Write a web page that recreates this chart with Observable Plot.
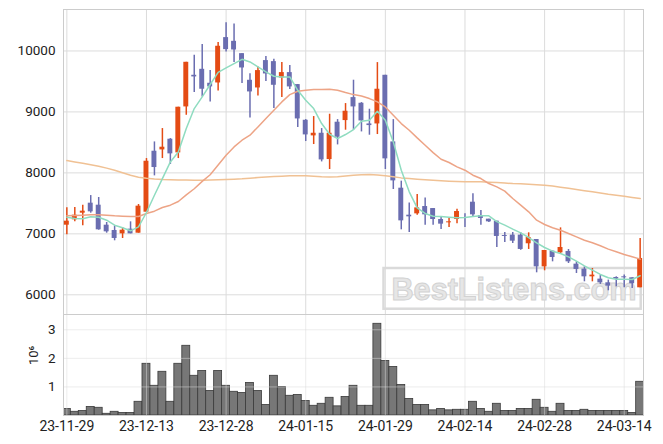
<!DOCTYPE html>
<html><head><meta charset="utf-8">
<script src="https://cdn.jsdelivr.net/npm/d3@7"></script>
<script src="https://cdn.jsdelivr.net/npm/@observablehq/plot@0.6"></script>
<style>
html,body{margin:0;padding:0;background:#fff;}
#chart{width:663px;height:444px;overflow:hidden;background:#fff;}
#chart svg{display:block;}
</style></head><body>
<div id="chart"></div>
<script>
const dates = ["2023-11-29","2023-11-30","2023-12-01","2023-12-04","2023-12-05","2023-12-06","2023-12-07","2023-12-08","2023-12-11","2023-12-12",
"2023-12-13","2023-12-14","2023-12-15","2023-12-18","2023-12-19","2023-12-20","2023-12-21","2023-12-22","2023-12-26","2023-12-27",
"2023-12-28","2024-01-02","2024-01-03","2024-01-04","2024-01-05","2024-01-08","2024-01-09","2024-01-10","2024-01-11","2024-01-12",
"2024-01-15","2024-01-16","2024-01-17","2024-01-18","2024-01-19","2024-01-22","2024-01-23","2024-01-24","2024-01-25","2024-01-26",
"2024-01-29","2024-01-30","2024-01-31","2024-02-01","2024-02-02","2024-02-05","2024-02-06","2024-02-07","2024-02-08","2024-02-13",
"2024-02-14","2024-02-15","2024-02-16","2024-02-19","2024-02-20","2024-02-21","2024-02-22","2024-02-23","2024-02-26","2024-02-27",
"2024-02-28","2024-02-29","2024-03-04","2024-03-05","2024-03-06","2024-03-07","2024-03-08","2024-03-11","2024-03-12","2024-03-13",
"2024-03-14","2024-03-15","2024-03-18"];

const openP = [7142,7230,7339,7503,7470,7142,7055,7000,7077,7011,
 7355,8355,8377,8552,8328,9082,9601,9699,9470,9475,
 10219,10158,9956,9519,9393,9842,9825,9557,9645,9448,
 8863,8607,8650,8219,8831,8858,9235,9142,8803,8803,
 9601,8508,7749,7306,7328,7448,7415,7235,7181,7235,
 7263,7519,7301,7241,7208,6973,6979,6979,6837,6907,
 6459,6716,6689,6711,6503,6421,6295,6257,6197,6284,
 6295,6279,6115];
const highP = [7426,7432,7470,7628,7596,7186,7131,7104,7197,7481,
 8235,8508,8727,8563,9077,9814,9929,10104,9678,10137,
 10464,10443,9956,9628,9738,9907,9863,9809,9760,9448,
 8874,8924,8727,8962,8874,9137,9520,9153,9044,9809,
 9601,8874,7864,7508,7645,7590,7415,7279,7252,7405,
 7328,7656,7383,7241,7208,7022,7022,7017,7017,6907,
 6727,6716,7098,6743,6541,6459,6432,6323,6241,6295,
 6323,6279,6924];
const lowP = [6985,7197,7131,7339,7060,7011,6886,6924,7000,7011,
 7355,7951,8235,8137,8235,8945,9317,9246,9164,9344,
 9984,9809,9465,8902,9262,9497,9055,9235,9366,8743,
 8514,8465,8180,8055,8459,8700,8700,8672,8618,8629,
 8055,7727,7066,7022,7306,7142,7142,7071,7104,7164,
 7104,7268,7142,7186,6776,6858,6842,6730,6744,6361,
 6394,6541,6678,6514,6350,6213,6213,6170,6066,6131,
 6115,6104,6115];
const closeP = [7208,7306,7372,7361,7066,7033,6924,7060,7000,7454,
 8191,8088,8421,8312,9077,9814,9574,9372,9410,10077,
 10022,10016,9721,9328,9678,9623,9437,9645,9410,8885,
 8623,8650,8213,8650,8585,9011,9082,8852,8776,9372,
 8230,7869,7213,7279,7426,7312,7235,7159,7197,7366,
 7252,7312,7252,7197,6957,6957,6880,6744,6940,6459,
 6727,6612,6776,6541,6416,6295,6323,6197,6142,6257,
 6279,6181,6596];
const ma5 = [7273,7252,7246,7279,7273,7224,7142,7099,7050,7115,
 7350,7634,7907,8180,8344,8727,9055,9246,9450,9650,
 9721,9792,9863,9820,9738,9656,9585,9574,9574,9355,
 9191,9055,8809,8634,8563,8629,8710,8847,8864,9011,
 8864,8508,8044,7689,7426,7334,7290,7284,7273,7263,
 7268,7284,7295,7295,7200,7142,7077,7017,6940,6853,
 6776,6716,6678,6623,6552,6476,6405,6334,6279,6257,
 6257,6252,6312];
const ma20 = [7295,7300,7306,7312,7312,7306,7295,7290,7284,7284,
 7334,7372,7432,7470,7530,7640,7740,7860,7970,8130,
 8290,8426,8536,8618,8754,8891,9027,9164,9284,9339,
 9355,9366,9366,9372,9355,9317,9284,9262,9219,9164,
 9082,8945,8809,8700,8574,8454,8333,8224,8170,8098,
 8044,7962,7907,7825,7770,7700,7579,7470,7361,7224,
 7153,7099,7060,7005,6951,6896,6853,6804,6749,6705,
 6662,6623,6585];
const ma60 = [8202,8180,8159,8135,8109,8078,8044,8002,7962,7930,
 7913,7900,7891,7887,7885,7882,7880,7881,7885,7888,
 7891,7896,7902,7912,7924,7932,7940,7946,7951,7952,
 7951,7944,7935,7933,7935,7948,7962,7970,7973,7965,
 7951,7935,7918,7906,7896,7888,7880,7872,7864,7858,
 7853,7853,7853,7848,7842,7833,7825,7820,7814,7806,
 7798,7783,7765,7746,7727,7708,7689,7670,7650,7633,
 7617,7598,7579];
// volume in millions of shares
const volume = [0.23,0.13,0.16,0.30,0.27,0.06,0.13,0.09,0.09,0.48,
 1.81,1.04,1.53,0.48,1.81,2.44,1.39,1.56,0.86,1.56,
 1.04,0.83,0.79,1.14,0.86,0.37,1.39,1.00,0.69,0.72,
 0.51,0.34,0.41,0.62,0.32,0.65,1.04,0.34,0.34,3.21,
 1.91,1.70,1.07,0.58,0.37,0.37,0.18,0.23,0.18,0.20,
 0.20,0.48,0.23,0.13,0.41,0.16,0.16,0.23,0.23,0.55,
 0.27,0.13,0.41,0.16,0.16,0.20,0.16,0.16,0.16,0.16,
 0.16,0.09,1.18];
const tickIndex = [0,10,20,30,40,50,60,70];
const priceTicks = [6000,7000,8000,9000,10000];
const volumeTicks = [1,2,3];
const volumeLabel = ["10⁶"];
const watermarkText = "BestListens.com";

const rows = dates.map((d,i)=>({i, date:d, o:openP[i], h:highP[i], l:lowP[i], c:closeP[i],
  ma5:ma5[i], ma20:ma20[i], ma60:ma60[i], v:volume[i]}));

const UP = "#e44b14", DOWN = "#6a6db0";
const col = d => d.c >= d.o ? UP : DOWN;
const xDomain = [-0.42, 72.42];
const font = "Roboto, 'DejaVu Sans', sans-serif";
const style = {fontFamily: font, color: "#222", background: "transparent"};
const GRID = "#dcdcdc";

function watermark() {
  const g = d3.create("svg:g");
  g.append("rect").attr("x",383.5).attr("y",268).attr("width",257.2).attr("height",40.7)
    .attr("fill","none").attr("stroke","#dadada").attr("stroke-width",2.5);
  g.append("text").attr("x",391.5).attr("y",300)
    .attr("text-anchor","start")
    .attr("font-family","'Liberation Sans', Arial, sans-serif").attr("font-weight","bold")
    .attr("font-size",32).attr("textLength",245).attr("lengthAdjust","spacingAndGlyphs")
    .attr("fill","#e6e6e6").attr("stroke","#d2d2d2").attr("stroke-width",1)
    .text(watermarkText);
  return g.node();
}

const price = Plot.plot({
  width: 663, height: 314, marginTop: 9, marginBottom: 0, marginLeft: 63, marginRight: 20,
  style,
  x: {type: "linear", domain: xDomain, axis: null},
  y: {domain: [5677, 10680]},
  marks: [
    Plot.gridX(tickIndex, {stroke: GRID, strokeOpacity: 1}),
    Plot.gridY(priceTicks, {stroke: GRID, strokeOpacity: 1}),
    Plot.frame({stroke: "#cccccc"}),
    watermark,
    Plot.axisY(priceTicks, {tickSize: 0, tickPadding: 8, fontSize: 13.5, tickFormat: d3.format("d"), label: null}),
    Plot.ruleX(rows, {x: "i", y1: "l", y2: "h", stroke: col, strokeWidth: 1.5}),
    Plot.rect(rows, {x1: d => d.i - 0.31, x2: d => d.i + 0.31, y1: "o", y2: "c", fill: col}),
    Plot.line(rows, {x: "i", y: "ma60", stroke: "#f0c194", strokeWidth: 1.5}),
    Plot.line(rows, {x: "i", y: "ma20", stroke: "#eda486", strokeWidth: 1.5}),
    Plot.line(rows, {x: "i", y: "ma5", stroke: "#8fdcc0", strokeWidth: 1.5})
  ]
});

const vol = Plot.plot({
  width: 663, height: 130, marginTop: 0, marginBottom: 29, marginLeft: 63, marginRight: 20,
  style,
  x: {type: "linear", domain: xDomain},
  y: {domain: [0, 3.535]},
  marks: [
    Plot.rectY(rows, {x1: d => d.i - 0.5, x2: d => d.i + 0.5, y: "v", fill: "#777777", stroke: "#3a3a3a", strokeWidth: 0.8, clip: true}),
    Plot.gridX(tickIndex, {stroke: GRID, strokeOpacity: 0.5}),
    Plot.gridY(volumeTicks, {stroke: GRID, strokeOpacity: 0.5}),
    Plot.frame({stroke: "#cccccc"}),
    Plot.axisY(volumeTicks, {tickSize: 0, tickPadding: 8, fontSize: 13.5, label: null}),
    Plot.axisX(tickIndex, {tickSize: 0, tickPadding: 6, fontSize: 14, tickFormat: i => dates[i].slice(2), label: null}),
    Plot.text(volumeLabel, {text: d => d, frameAnchor: "left", dx: -30, rotate: -90, fontSize: 13, fill: "#222"})
  ]
});

const chart = document.getElementById("chart");
chart.appendChild(price);
chart.appendChild(vol);
</script>
</body></html>
